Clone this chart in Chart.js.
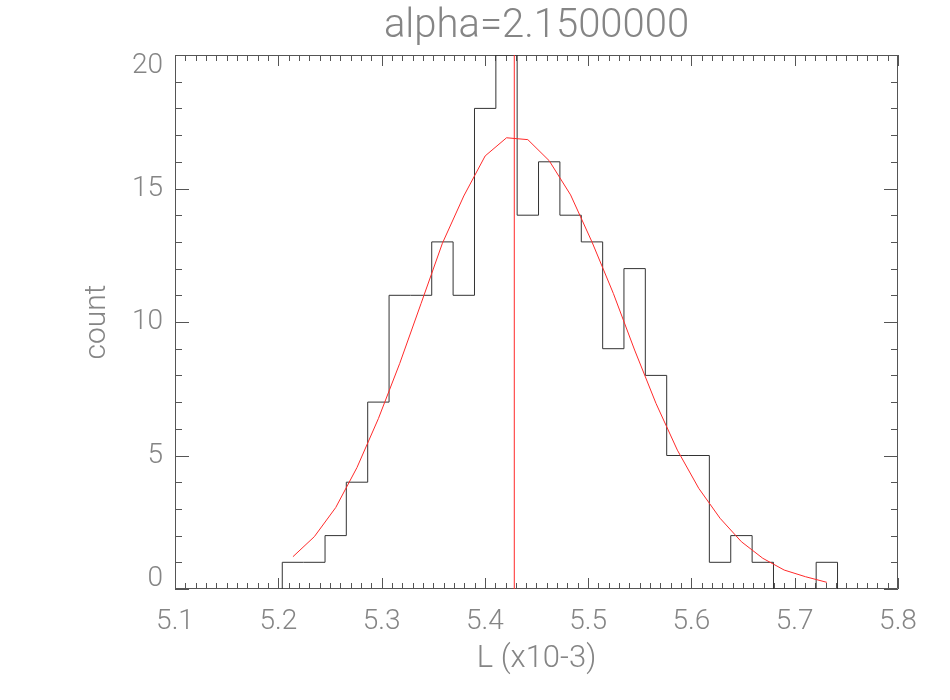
<!DOCTYPE html>
<html>
<head>
<meta charset="utf-8">
<script src="https://cdn.jsdelivr.net/npm/chart.js@4/dist/chart.umd.min.js"></script>
<style>
  html, body { margin: 0; padding: 0; background: #ffffff; }
  #wrap { width: 950px; height: 700px; }
</style>
</head>
<body>
<div id="wrap"><canvas id="c" width="950" height="700"></canvas></div>
<script>
// ---- data ----
const titleText = 'alpha=2.1500000';
const xAxisTitle = 'L (x10-3)';
const yAxisTitle = 'count';
const xTickLabels = ['5.1', '5.2', '5.3', '5.4', '5.5', '5.6', '5.7', '5.8'];
const yTickLabels = ['0', '5', '10', '15', '20'];
const binWidth = 0.02068;
const binCenters = [5.2142, 5.2349, 5.2556, 5.2762, 5.2969, 5.3176, 5.3383, 5.3589,
  5.3796, 5.4003, 5.4210, 5.4416, 5.4623, 5.4830, 5.5037, 5.5244, 5.5450, 5.5657,
  5.5864, 5.6071, 5.6277, 5.6484, 5.6691, 5.6898, 5.7104, 5.7311];
const counts = [1, 1, 2, 4, 7, 11, 11, 13, 11, 18, 20, 14, 16, 14, 13, 9, 12, 8,
  5, 5, 1, 2, 1, 0, 0, 1];
const fitValues = [1.21, 1.96, 3.05, 4.55, 6.38, 8.45, 10.7, 12.95, 14.72, 16.22,
  16.9, 16.83, 16.04, 14.76, 13.0, 11.07, 8.95, 6.95, 5.2, 3.77, 2.65, 1.77, 1.15,
  0.71, 0.46, 0.25];
const meanValue = 5.4285;
const yRange = [0, 20];

// ---- build datasets ----
const histPoints = [];
histPoints.push({ x: binCenters[0] - binWidth / 2, y: 0 });
binCenters.forEach((c, i) => histPoints.push({ x: c - binWidth / 2, y: counts[i] }));
histPoints.push({ x: binCenters[binCenters.length - 1] + binWidth / 2, y: 0 });

const fitPoints = binCenters.map((c, i) => ({ x: c, y: fitValues[i] }));
const meanPoints = [{ x: meanValue, y: yRange[0] }, { x: meanValue, y: yRange[1] }];

const textColor = '#858585';
const axisColor = '#555555';
const fontFamily = 'Roboto, "Liberation Sans", "DejaVu Sans", sans-serif';

// plugin: IDL-style box with inward ticks on all sides
const boxTicks = {
  id: 'boxTicks',
  beforeDatasetsDraw(chart) {
    const { ctx, chartArea: a, scales } = chart;
    const xs = scales.x, ys = scales.y;
    ctx.save();
    ctx.strokeStyle = axisColor;
    ctx.lineWidth = 1;
    ctx.beginPath();
    ctx.rect(a.left + 0.5, a.top + 0.5, a.right - a.left - 1, a.bottom - a.top - 1);
    for (let k = 0; k <= 70; k++) {
      const v = 5.1 + k * 0.01;
      const px = Math.round(xs.getPixelForValue(v)) + 0.5;
      const len = (k % 10 === 0) ? 11 : 6;
      ctx.moveTo(px, a.bottom); ctx.lineTo(px, a.bottom - len);
      ctx.moveTo(px, a.top); ctx.lineTo(px, a.top + len);
    }
    for (let k = 0; k <= 20; k++) {
      const py = Math.round(ys.getPixelForValue(k)) + 0.5;
      const len = (k % 5 === 0) ? 14 : 7;
      ctx.moveTo(a.left, py); ctx.lineTo(a.left + len, py);
      ctx.moveTo(a.right, py); ctx.lineTo(a.right - len, py);
    }
    ctx.stroke();
    ctx.restore();
  }
};

new Chart(document.getElementById('c'), {
  type: 'line',
  data: {
    datasets: [
      {
        label: 'histogram',
        data: histPoints,
        stepped: 'before',
        borderColor: '#333333',
        borderWidth: 1,
        pointRadius: 0,
        fill: false,
        order: 2
      },
      {
        label: 'fit',
        data: fitPoints,
        borderColor: '#ff2a2a',
        borderWidth: 1,
        pointRadius: 0,
        tension: 0,
        fill: false,
        order: 1
      },
      {
        label: 'mean',
        data: meanPoints,
        borderColor: '#ff2a2a',
        borderWidth: 1,
        pointRadius: 0,
        fill: false,
        order: 0
      }
    ]
  },
  options: {
    responsive: false,
    animation: false,
    layout: { padding: { left: 0, right: 52, top: 0, bottom: 0 } },
    plugins: {
      legend: { display: false },
      tooltip: { enabled: false },
      title: {
        display: true,
        fullSize: false,
        text: titleText,
        color: textColor,
        font: { family: fontFamily, size: 40, weight: 300, lineHeight: 1 },
        padding: { top: 7, bottom: 8 }
      }
    },
    scales: {
      x: {
        type: 'linear',
        min: 5.1,
        max: 5.8,
        afterFit(s) { s.height = 111; },
        grid: { display: false, drawTicks: false },
        border: { display: false },
        ticks: {
          stepSize: 0.1,
          padding: 16,
          color: textColor,
          font: { family: fontFamily, size: 28, weight: 300 },
          maxRotation: 0,
          callback: (v, i) => xTickLabels[i]
        },
        title: {
          display: true,
          text: xAxisTitle,
          color: textColor,
          font: { family: fontFamily, size: 31, weight: 300, lineHeight: 1.2 },
          padding: { top: 0, bottom: 22 }
        }
      },
      y: {
        type: 'linear',
        min: yRange[0],
        max: yRange[1],
        afterFit(s) { s.width = 175; },
        grid: { display: false, drawTicks: false },
        border: { display: false },
        ticks: {
          stepSize: 5,
          padding: 12,
          color: textColor,
          font: { family: fontFamily, size: 28, weight: 300, lineHeight: 0.75 },
          callback: (v, i, arr) => {
            const t = yTickLabels[i];
            if (i === 0) return [t, ''];
            if (i === arr.length - 1) return ['', t];
            return t;
          }
        },
        title: {
          display: true,
          text: yAxisTitle,
          color: textColor,
          font: { family: fontFamily, size: 30, weight: 300, lineHeight: 1.2 },
          padding: { top: 79, bottom: 0 }
        }
      }
    }
  },
  plugins: [boxTicks]
});
</script>
</body>
</html>
